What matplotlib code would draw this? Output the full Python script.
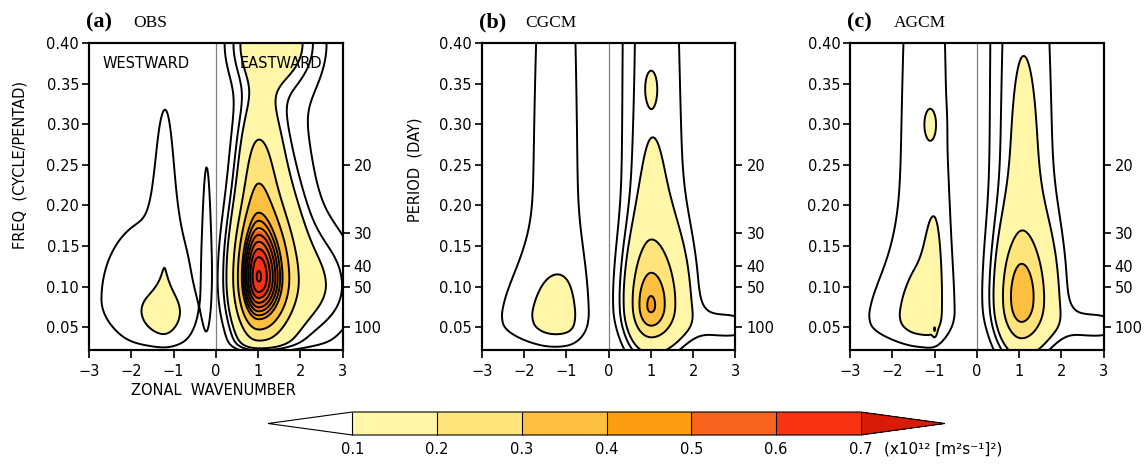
import numpy as np
import matplotlib.pyplot as plt
from matplotlib.colors import ListedColormap, BoundaryNorm

# ---- data ----
# shading levels and colours (x10^12 [m2 s-1]^2)
fill_levels = [0.1, 0.2, 0.3, 0.4, 0.5, 0.6, 0.7]
fill_colors = ["#fff6a8", "#ffe47c", "#fdbf3f", "#fd9e12", "#f8631d", "#f83212"]
under_color = "#ffffff"
over_color = "#d81c08"
# contour lines: westward half / eastward half
west_lines = [0.04, 0.1, 0.2, 0.3]
east_lines = [0.04, 0.07, 0.1, 0.2, 0.3, 0.4, 0.44, 0.48, 0.52, 0.56, 0.6, 0.64, 0.68]
west_lines_model = [0.05, 0.1, 0.2, 0.3, 0.4]
east_lines_model = [0.04, 0.07, 0.1, 0.2, 0.3, 0.4]

# spectral peaks: (wavenumber, freq, amplitude, k-width left, k-width right, f-width low, f-width high)
obs_peaks = [
    (1.0, 0.11, 0.30, 0.38, 0.60, 0.050, 0.080),
    (1.0, 0.11, 0.33, 0.36, 0.45, 0.045, 0.050),
    (1.0, 0.25, 0.14, 0.30, 0.35, 0.060, 0.060),
    (1.2, 0.40, 0.13, 0.55, 0.70, 0.035, 0.100),
    (1.3, 0.25, 0.05, 0.70, 1.10, 0.300, 0.500),
    (2.5, 0.10, 0.07, 0.60, 0.70, 0.045, 0.050),
    (-1.3, 0.085, 0.075, 1.25, 0.65, 0.050, 0.090),
    (-1.2, 0.23, 0.055, 0.20, 0.18, 0.100, 0.100),
    (-1.25, 0.065, 0.07, 0.42, 0.40, 0.022, 0.020),
    (-0.22, 0.14, 0.05, 0.08, 0.08, 0.070, 0.110),
]
cgcm_peaks = [
    (-1.18, 0.07, 0.062, 0.94, 0.70, 0.035, 1.000),
    (-1.6, 0.055, 0.035, 1.30, 0.50, 0.020, 0.050),
    (-1.0, 0.055, 0.05, 0.55, 0.30, 0.018, 0.055),
    (0.75, 0.10, 0.058, 0.35, 0.60, 0.060, 1.000),
    (1.5, 0.10, 0.046, 0.60, 0.60, 0.060, 1.000),
    (3.2, 0.20, 0.045, 0.90, 2.00, 1.000, 1.000),
    (2.6, 0.05, 0.035, 0.60, 0.80, 0.015, 0.020),
    (1.0, 0.075, 0.24, 0.38, 0.50, 0.035, 0.060),
    (1.0, 0.20, 0.025, 0.25, 0.30, 0.060, 0.070),
    (1.0, 0.075, 0.09, 0.20, 0.20, 0.018, 0.022),
    (1.0, 0.345, 0.035, 0.10, 0.10, 0.015, 0.015),
]
agcm_peaks = [
    (-1.18, 0.07, 0.062, 0.98, 0.75, 0.035, 1.000),
    (-1.6, 0.055, 0.035, 1.30, 0.50, 0.020, 0.050),
    (-1.2, 0.06, 0.05, 0.42, 0.30, 0.020, 0.065),
    (-1.0, 0.14, 0.045, 0.18, 0.15, 0.060, 0.060),
    (-1.0, 0.047, 0.10, 0.03, 0.03, 0.005, 0.005),
    (-1.1, 0.30, 0.07, 0.13, 0.13, 0.018, 0.018),
    (0.75, 0.10, 0.056, 0.35, 0.60, 0.060, 1.000),
    (1.5, 0.10, 0.048, 0.60, 0.60, 0.060, 1.000),
    (3.2, 0.20, 0.045, 0.90, 2.00, 1.000, 1.000),
    (2.6, 0.05, 0.035, 0.60, 0.80, 0.015, 0.020),
    (1.05, 0.08, 0.22, 0.38, 0.48, 0.040, 0.065),
    (1.05, 0.09, 0.06, 0.25, 0.25, 0.040, 0.035),
    (1.1, 0.25, 0.035, 0.25, 0.28, 0.080, 0.100),
]
# frequency below which the spectrum rolls off (None = no roll-off)
obs_cutoff = 0.012
model_cutoff = None

period_ticks = [20, 30, 40, 50, 100]  # days, freq = 5/period (cycle/pentad)
freq_ticks = [0.05, 0.10, 0.15, 0.20, 0.25, 0.30, 0.35, 0.40]
wave_ticks = [-3, -2, -1, 0, 1, 2, 3]

panels = [
    ("(a)", "OBS", obs_peaks, obs_cutoff, west_lines, east_lines),
    ("(b)", "CGCM", cgcm_peaks, model_cutoff, west_lines_model, east_lines_model),
    ("(c)", "AGCM", agcm_peaks, model_cutoff, west_lines_model, east_lines_model),
]

k = np.linspace(-3, 3, 241)
f = np.linspace(0.022, 0.40, 241)
K, F = np.meshgrid(k, f)
mid = 120  # column of wavenumber 0


def spectrum(peaks, cutoff):
    z = np.zeros_like(K)
    for k0, f0, amp, skl, skr, sfl, sfh in peaks:
        sk = np.where(K < k0, skl, skr)
        sf = np.where(F < f0, sfl, sfh)
        z += amp * np.exp(-0.5 * ((K - k0) / sk) ** 2 - 0.5 * ((F - f0) / sf) ** 2)
    if cutoff is not None:
        z *= 1 - np.exp(-((F - cutoff) / 0.012) ** 2)
    return z


cmap = ListedColormap(fill_colors)
cmap.set_under(under_color)
cmap.set_over(over_color)
norm = BoundaryNorm(fill_levels, cmap.N)

fig = plt.figure(figsize=(11.48, 4.65), dpi=100)
lefts = [0.0775, 0.4196, 0.7404]
W, H = 0.221, 0.660
B = 0.2473

for i, (tag, name, peaks, cut, wl, el) in enumerate(panels):
    ax = fig.add_axes([lefts[i], B, W, H])
    z = spectrum(peaks, cut)
    cf = ax.contourf(K, F, z, levels=fill_levels, cmap=cmap, norm=norm, extend="both")
    ax.contour(K[:, :mid + 1], F[:, :mid + 1], z[:, :mid + 1], levels=wl,
               colors="black", linewidths=1.4)
    ax.contour(K[:, mid:], F[:, mid:], z[:, mid:], levels=el,
               colors="black", linewidths=1.4)
    ax.axvline(0, color="#808080", lw=0.9)
    ax.set_xlim(-3, 3)
    ax.set_ylim(0.022, 0.40)
    ax.set_xticks(wave_ticks)
    ax.set_xticklabels([str(t).replace("-", "\u2212") for t in wave_ticks])
    ax.set_yticks(freq_ticks)
    ax.set_yticklabels(["%.2f" % t for t in freq_ticks])
    ax.tick_params(direction="out", length=5, width=1.2, labelsize=10.5, pad=2)
    ax.tick_params(axis="x", length=6, pad=4)
    for s in ax.spines.values():
        s.set_linewidth(1.5)

    ax2 = ax.twinx()
    ax2.set_ylim(0.022, 0.40)
    ax2.set_yticks([5.0 / p for p in period_ticks])
    ax2.set_yticklabels([str(p) for p in period_ticks])
    ax2.tick_params(direction="out", length=5, width=1.2, labelsize=10.5, pad=3)
    for s in ax2.spines.values():
        s.set_linewidth(1.5)

    x0 = lefts[i] * 1148 - 3
    fig.text(x0 / 1148, 1 - 27 / 465, tag, fontsize=16, fontweight="bold",
             family="Liberation Serif", va="baseline")
    fig.text((x0 + 47) / 1148, 1 - 27 / 465, name, fontsize=12.5,
             family="Liberation Serif", va="baseline")

    if i == 0:
        ax.text(-1.65, 0.375, "WESTWARD", ha="center", va="center", fontsize=10.5)
        ax.text(1.55, 0.375, "EASTWARD", ha="center", va="center", fontsize=10.5)
        fig.text(20 / 1148, 1 - 165 / 465, "FREQ  (CYCLE/PENTAD)", rotation=90,
                 ha="center", va="center", fontsize=10.5)
        fig.text(213 / 1148, 1 - 390 / 465, "ZONAL  WAVENUMBER", ha="center",
                 va="center", fontsize=10.5)
    if i == 1:
        fig.text(415 / 1148, 1 - 170 / 465, "PERIOD  (DAY)", rotation=90,
                 ha="center", va="center", fontsize=10.5)

cax = fig.add_axes([268 / 1148, 1 - 435 / 465, 677 / 1148, 23 / 465])
cb = fig.colorbar(cf, cax=cax, orientation="horizontal", extend="both",
                  extendfrac=0.166, drawedges=True, ticks=fill_levels)
cb.outline.set_linewidth(0.8)
cb.dividers.set_linewidth(0.8)
cax.tick_params(length=0, labelsize=10.5, pad=5)
fig.text(884 / 1148, 1 - 449 / 465, "(x10\u00b9\u00b2 [m\u00b2s\u207b\u00b9]\u00b2)",
         fontsize=11, va="center")

fig.savefig("out.png", dpi=100)
